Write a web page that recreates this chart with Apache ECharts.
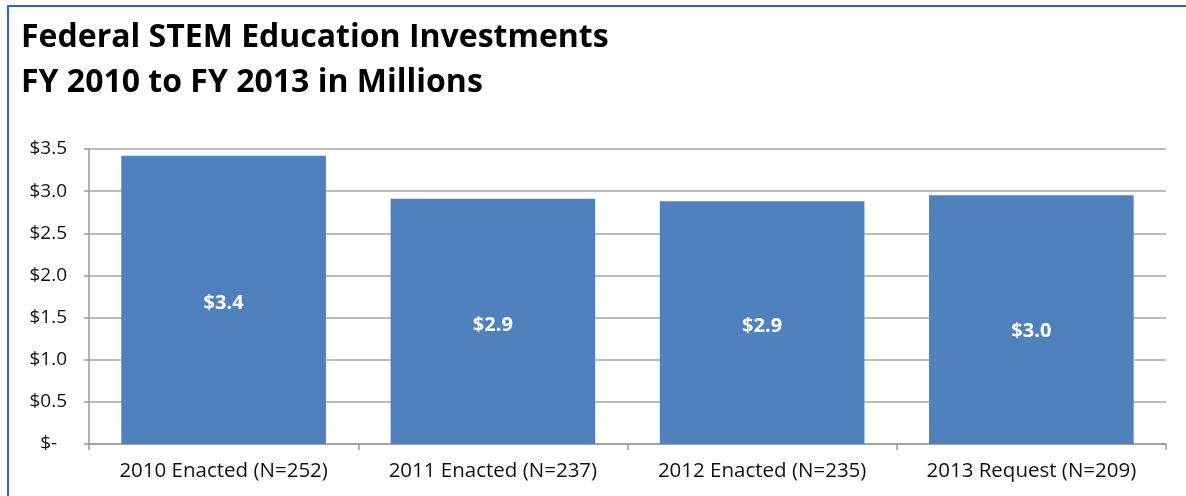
<!DOCTYPE html>
<html>
<head>
<meta charset="utf-8">
<script src="https://cdn.jsdelivr.net/npm/echarts@6/dist/echarts.min.js"></script>
<style>
  html, body { margin: 0; padding: 0; background: #fff; }
  #frame { position: absolute; left: 7px; top: 5px; width: 1200px; height: 520px;
           border-left: 2px solid #2b6cb8; border-top: 2px solid #2b6cb8; }
  #chart { position: absolute; left: 0; top: 0; width: 1186px; height: 496px; }
</style>
</head>
<body>
<div id="frame"></div>
<div id="chart"></div>
<script>
const titleLines = ['Federal STEM Education Investments', 'FY 2010 to FY 2013 in Millions'];
const categories = ['2010 Enacted (N=252)', '2011 Enacted (N=237)', '2012 Enacted (N=235)', '2013 Request (N=209)'];
const investments = [3.42, 2.91, 2.88, 2.95];
const yTicks = [0, 0.5, 1.0, 1.5, 2.0, 2.5, 3.0, 3.5];

const labelOffsets = [[0, 3], [0, 4], [0, 4], [0, 12]];

const chart = echarts.init(document.getElementById('chart'));
chart.setOption({
  animation: false,
  title: {
    text: titleLines.join('\n'),
    left: 16, top: 10,
    textStyle: { fontFamily: 'Open Sans', fontWeight: 'bold', fontSize: 32, lineHeight: 45, color: '#000' }
  },
  grid: { left: 89, right: 20, top: 149, bottom: 52 },
  xAxis: {
    type: 'category',
    data: categories,
    axisLine: { lineStyle: { color: '#999', width: 1.5 } },
    axisTick: { show: true, length: 6, lineStyle: { color: '#999', width: 1.5 } },
    axisLabel: { fontFamily: 'Open Sans', fontSize: 20.5, color: '#111', margin: 17, interval: 0 }
  },
  yAxis: {
    type: 'value',
    min: 0, max: 3.5, interval: 0.5,
    axisLine: { show: true, lineStyle: { color: '#999', width: 1.5 } },
    axisTick: { show: true, length: 5, lineStyle: { color: '#999', width: 1.5 } },
    splitLine: { lineStyle: { color: '#a6a6a6', width: 1.5 } },
    axisLabel: {
      fontFamily: 'Open Sans', fontSize: 19, color: '#111', margin: 22,
      formatter: function (v) {
        return yTicks.indexOf(v) >= 0 ? (v === 0 ? '$-\u00a0\u00a0' : '$' + v.toFixed(1)) : '';
      }
    }
  },
  series: [{
    type: 'bar',
    data: investments.map(function (v, i) {
      return { value: v, label: { offset: labelOffsets[i] } };
    }),
    barWidth: '76%',
    itemStyle: { color: '#4f81bd' },
    label: {
      show: true, position: 'inside',
      fontFamily: 'Open Sans', fontWeight: 'bold', fontSize: 20, color: '#fff',
      formatter: function (p) { return '$' + p.value.toFixed(1); }
    }
  }]
});
</script>
</body>
</html>
